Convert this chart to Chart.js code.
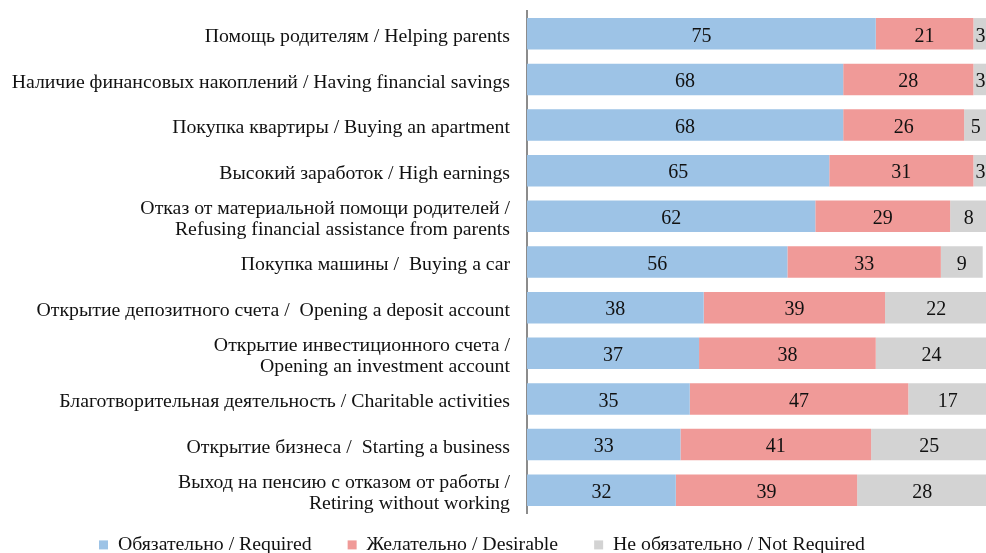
<!DOCTYPE html>
<html>
<head>
<meta charset="utf-8">
<script src="https://cdn.jsdelivr.net/npm/chart.js@4.4.0/dist/chart.umd.min.js"></script>
<style>
html,body{margin:0;padding:0;background:#fff;overflow:hidden;width:986px;height:553px;}
#wrap{width:992px;height:553px;}
</style>
</head>
<body>
<div id="wrap"><canvas id="c" width="992" height="553"></canvas></div>
<script>
const categories = [
  "Помощь родителям / Helping parents",
  "Наличие финансовых накоплений / Having financial savings",
  "Покупка квартиры / Buying an apartment",
  "Высокий заработок / High earnings",
  ["Отказ от материальной помощи родителей /", "Refusing financial assistance from parents"],
  "Покупка машины /  Buying a car",
  "Открытие депозитного счета /  Opening a deposit account",
  ["Открытие инвестиционного счета /", "Opening an investment account"],
  "Благотворительная деятельность / Charitable activities",
  "Открытие бизнеса /  Starting a business",
  ["Выход на пенсию с отказом от работы /", "Retiring without working"]
];
const seriesNames = ["Обязательно / Required", "Желательно / Desirable", "Не обязательно / Not Required"];
const required = [75, 68, 68, 65, 62, 56, 38, 37, 35, 33, 32];
const desirable = [21, 28, 26, 31, 29, 33, 39, 38, 47, 41, 39];
const notRequired = [3, 3, 5, 3, 8, 9, 22, 24, 17, 25, 28];
const colors = ["#9DC3E6", "#F09A98", "#D3D3D3"];

const FONT = "'Liberation Serif', 'Times New Roman', serif";

const valueLabels = {
  id: 'valueLabels',
  afterDatasetsDraw(chart) {
    const ctx = chart.ctx;
    ctx.save();
    ctx.font = "20px " + FONT;
    ctx.fillStyle = "#111";
    ctx.textAlign = "center";
    ctx.textBaseline = "middle";
    chart.data.datasets.forEach((ds, di) => {
      const meta = chart.getDatasetMeta(di);
      meta.data.forEach((bar, i) => {
        const v = ds.data[i];
        const x = (bar.x + bar.base) / 2;
        ctx.fillText(String(v), x, bar.y + 2.5);
      });
    });
    ctx.restore();
  }
};

const adjustLegend = {
  id: 'adjustLegend',
  afterLayout(chart) {
    const lg = chart.legend;
    if (lg) {
      lg.left -= 14; lg.right -= 14;
      lg.top = 545 - 36 - 10;
    }
  }
};

new Chart(document.getElementById('c'), {
  type: 'bar',
  data: {
    labels: categories,
    datasets: [
      { label: seriesNames[0], data: required, backgroundColor: colors[0] },
      { label: seriesNames[1], data: desirable, backgroundColor: colors[1] },
      { label: seriesNames[2], data: notRequired, backgroundColor: colors[2] }
    ]
  },
  options: {
    indexAxis: 'y',
    responsive: false,
    animation: false,
    layout: { padding: { top: 11, bottom: 0, left: 0, right: 0 } },
    datasets: { bar: { categoryPercentage: 1, barPercentage: 0.69, borderWidth: 0 } },
    scales: {
      x: { stacked: true, min: 0, max: 100, display: false },
      y: {
        stacked: true,
        grid: { display: false, drawTicks: false, tickLength: 0 },
        border: { display: true, color: '#8C8C8C', width: 2 },
        ticks: { font: { family: FONT, size: 19.8, lineHeight: 1.06 }, color: '#111', padding: 17, labelOffset: 3, autoSkip: false },
        afterFit(scale) { scale.width = 527; scale.paddingTop = 0; scale.paddingBottom = 0; }
      }
    },
    plugins: {
      legend: {
        position: 'bottom',
        maxHeight: 40,
        labels: {
          boxWidth: 9, boxHeight: 9, padding: 36,
          font: { family: FONT, size: 19.8 }, color: '#111'
        }
      },
      tooltip: { enabled: false }
    }
  },
  plugins: [valueLabels, adjustLegend]
});
</script>
</body>
</html>
